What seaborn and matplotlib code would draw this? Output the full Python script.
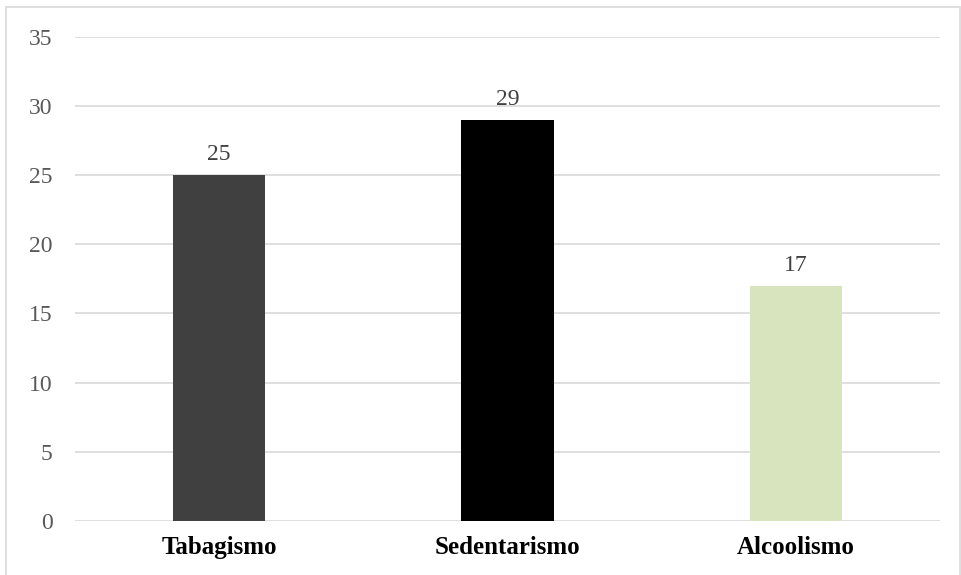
import matplotlib
matplotlib.use("Agg")
import matplotlib.pyplot as plt
import seaborn as sns
import pandas as pd
from matplotlib.patches import Rectangle

categories = ["Tabagismo", "Sedentarismo", "Alcoolismo"]
values = [25, 29, 17]
bar_colors = ["#404040", "#000000", "#d7e4bd"]
yticks = [0, 5, 10, 15, 20, 25, 30, 35]

df = pd.DataFrame({"categoria": categories, "valor": values})

sns.set_style("white")
plt.rcParams["font.family"] = ["Liberation Serif", "DejaVu Serif"]

fig = plt.figure(figsize=(9.61, 5.75), dpi=100)
ax = fig.add_axes([0.078, 0.094, 0.9, 0.842])

sns.barplot(data=df, x="categoria", y="valor", hue="categoria", palette=bar_colors,
            width=0.32, legend=False, ax=ax, saturation=1, linewidth=0)

ax.set_ylim(0, 35)
ax.set_xlim(-0.5, 2.5)
ax.set_yticks(yticks)
ax.set_yticklabels([str(t) for t in yticks], fontsize=17, color="#595959")
ax.set_xticks(range(len(categories)))
ax.set_xticklabels(categories, fontsize=18, fontweight="bold", color="black")
ax.tick_params(axis="y", length=0, pad=16)
ax.tick_params(axis="x", length=0, pad=11)
ax.set_xlabel("")
ax.set_ylabel("")
ax.yaxis.grid(True, color="#d9d9d9", linewidth=1.2)
ax.set_axisbelow(True)
for s in ax.spines.values():
    s.set_visible(False)

for i, v in enumerate(values):
    ax.annotate(str(v), (i, v), xytext=(0, 7), textcoords="offset points",
                ha="center", va="bottom", fontsize=17, color="#404040")

# chart frame
fig.patches.append(Rectangle((0.006, -0.01), 0.993, 0.998, transform=fig.transFigure,
                             fill=False, edgecolor="#d9d9d9", linewidth=1.2))

fig.savefig("out.png", dpi=100)
